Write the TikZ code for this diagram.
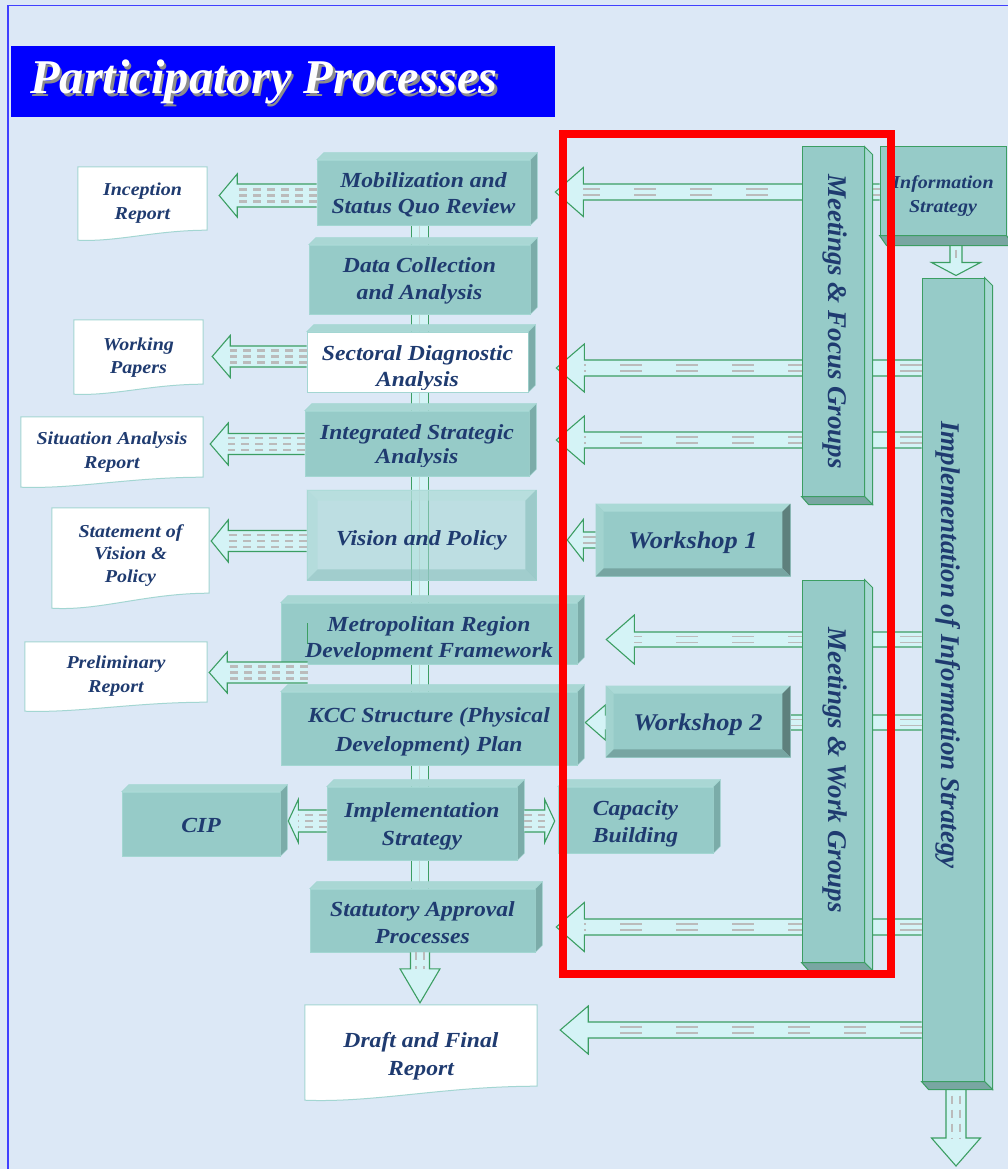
\documentclass[tikz,border=0pt]{standalone}
\usepackage{fontspec}
\setmainfont{Liberation Serif}[FakeStretch=1.1]
\newfontfamily\plainserif{Liberation Serif}
\usetikzlibrary{calc}
\pgfdeclarelayer{bg}
\pgfsetlayers{bg,main}
\definecolor{bgc}{HTML}{DCE8F6}
\definecolor{navy}{HTML}{1F3B70}
\definecolor{frontc}{HTML}{96CBC8}
\definecolor{topc}{HTML}{A9D7D4}
\definecolor{sidec}{HTML}{7BACA9}
\definecolor{edgec}{HTML}{A3D6D2}
\definecolor{grn}{HTML}{3C9E63}
\definecolor{shaftc}{HTML}{D4F3F6}
\definecolor{dashc}{HTML}{BBBBBB}
\definecolor{vsidec}{HTML}{A8D8D4}
\definecolor{vbotc}{HTML}{79A6A2}
\definecolor{titleblue}{HTML}{0000FF}
\definecolor{borderblue}{HTML}{4040FF}
\definecolor{titleshade}{HTML}{8C8C8C}
\definecolor{wstopc}{HTML}{AAD9D6}
\definecolor{wsleftc}{HTML}{A2D3CF}
\definecolor{wsrightc}{HTML}{5E807D}
\definecolor{wsbotc}{HTML}{77A5A2}
\definecolor{visfacec}{HTML}{A5D6D3}
\definecolor{vistopc}{HTML}{B5DFDC}
\definecolor{visleftc}{HTML}{AEDBD8}
\definecolor{visrightc}{HTML}{86BDBA}
\definecolor{visbotc}{HTML}{8FC3C0}
\definecolor{framered}{HTML}{FF0000}

\tikzset{
  boxfront/.style={fill=frontc, draw=edgec, line width=0.6pt, inner sep=0pt},
  whitefront/.style={fill=white, draw=edgec, line width=0.6pt, inner sep=0pt},
  topface/.style={fill=topc, draw=edgec, line width=0.5pt},
  sideface/.style={fill=sidec, draw=edgec, line width=0.5pt},
  boxtext/.style={text=navy, font=\fontsize{21.5}{27}\selectfont\bfseries\itshape, align=center, inner sep=0pt},
  dfrtext/.style={text=navy, font=\fontsize{21.5}{28}\selectfont\bfseries\itshape, align=center, inner sep=0pt},
  doctext/.style={text=navy, font=\fontsize{18.2}{24}\selectfont\bfseries\itshape, align=center, inner sep=0pt},
  docshape/.style={fill=white, draw=edgec, line width=1pt},
  vfront/.style={fill=frontc, draw=grn, line width=1pt, inner sep=0pt},
  vside/.style={fill=vsidec, draw=grn, line width=1pt},
  vbot/.style={fill=vbotc, draw=grn, line width=1pt},
  vtext/.style={text=navy, font=\plainserif\fontsize{27}{32}\selectfont\bfseries\itshape, inner sep=0pt},
  wsface/.style={fill=frontc, draw=edgec, line width=0.6pt},
  wstop/.style={fill=wstopc},
  wsleft/.style={fill=wsleftc},
  wsright/.style={fill=wsrightc},
  wsbot/.style={fill=wsbotc},
  wstext/.style={text=navy, font=\fontsize{24}{30}\selectfont\bfseries\itshape, align=center, inner sep=0pt},
  visface/.style={fill=visfacec, fill opacity=0.55, draw=edgec, line width=0.6pt},
  vistop/.style={fill=vistopc, fill opacity=0.6},
  visleft/.style={fill=visleftc, fill opacity=0.6},
  visright/.style={fill=visrightc, fill opacity=0.6},
  visbot/.style={fill=visbotc, fill opacity=0.6},
  vistext/.style={boxtext},
  arrowedge/.style={draw=grn, line width=1.1pt, line join=miter},
  longdash/.style={draw=dashc, line width=1.8pt, dash pattern=on 22pt off 34pt},
  griddash/.style={draw=dashc, line width=2.4pt, dash pattern=on 8pt off 6pt},
  vdash/.style={draw=dashc, line width=2pt, dash pattern=on 8pt off 6pt},
}

% 3D box with top and right faces
\newcommand\cbox[9]{%
  \node[#6, minimum width={#4-#2}, minimum height={#5-#3}] (#1) at ({(#2+#4)/2},{(#3+#5)/2}) {};
  \filldraw[topface] (#1.north west) -- ++(7,-7) -- ($(#1.north east)+(7,-7)$) -- (#1.north east) -- cycle;
  \filldraw[sideface] (#1.north east) -- ++(7,-7) -- ($(#1.south east)+(7,-7)$) -- (#1.south east) -- cycle;
  \begin{scope}
    \clip (#1.north west) rectangle (#1.south east |- 0,#9);
    \node[boxtext] (#1-t) at (#1.center |- 0,#8) {#7};
  \end{scope}
}
% bevelled box
\newcommand\bvbox[9]{%
  \node[#7face, minimum width={#4-#2}, minimum height={#5-#3}, inner sep=0pt] (#1) at ({(#2+#4)/2},{(#3+#5)/2}) {};
  \fill[#7top] (#1.north west) -- (#1.north east) -- ($(#1.north east)+(-#6,#6)$) -- ($(#1.north west)+(#6,#6)$) -- cycle;
  \fill[#7left] (#1.north west) -- ($(#1.north west)+(#6,#6)$) -- ($(#1.south west)+(#6,-#6)$) -- (#1.south west) -- cycle;
  \fill[#7right] (#1.north east) -- ($(#1.north east)+(-#6,#6)$) -- ($(#1.south east)+(-#6,-#6)$) -- (#1.south east) -- cycle;
  \fill[#7bot] (#1.south west) -- ($(#1.south west)+(#6,-#6)$) -- ($(#1.south east)+(-#6,-#6)$) -- (#1.south east) -- cycle;
  \node[#7text] (#1-t) at (#1.center |- 0,#9) {#8};
}
% vertical box with right and bottom faces
\newcommand\vertbox[5]{%
  \node[vfront, minimum width={#4-#2}, minimum height={#5-#3}] (#1) at ({(#2+#4)/2},{(#3+#5)/2}) {};
  \filldraw[vside] (#1.north east) -- ++(8,8) -- ($(#1.south east)+(8,8)$) -- (#1.south east) -- cycle;
  \filldraw[vbot] (#1.south west) -- ++(7,8) -- ($(#1.south east)+(8,8)$) -- (#1.south east) -- cycle;
}
% document shape
\newcommand\docbox[9]{%
  \node[inner sep=0pt, minimum width={#4-#2}, minimum height={#5-#3}] (#1) at ({(#2+#4)/2},{(#3+#5)/2}) {};
  \filldraw[docshape] (#1.north west) -- (#1.north east) -- (#1.south east)
    .. controls ($(#1.south east)+({-0.4*(#4-#2)},0)$) and ($(#1.south west)+({0.3*(#4-#2)},{1.2*(#6-#5)})$) .. ($(#1.south west)+(0,{#6-#5})$) -- cycle;
  \node[#7] (#1-t) at (#1.center |- 0,#9) {#8};
}
% left (or right) block arrow: start, tip ref, tip offset, y, shaft half, head half, head length, dash offsets, dash style
\newcommand\larrow[9]{%
  \coordinate (aS) at (#1 |- 0,#4);
  \coordinate (aT) at ($(#2 |- 0,#4)+(#3,0)$);
  \fill[shaftc] ($(aS)+(0,-#5)$) -- ($(aT)+(#7,-#5)$) -- ($(aT)+(#7,-#6)$) -- (aT) -- ($(aT)+(#7,#6)$) -- ($(aT)+(#7,#5)$) -- ($(aS)+(0,#5)$) -- cycle;
  \foreach \dy in {#8} {\draw[#9] ($(aS)+(0,\dy)$) -- ($(aT)+(#7,\dy)$);}
  \draw[arrowedge] ($(aS)+(0,-#5)$) -- ($(aT)+(#7,-#5)$) -- ($(aT)+(#7,-#6)$) -- (aT) -- ($(aT)+(#7,#6)$) -- ($(aT)+(#7,#5)$) -- ($(aS)+(0,#5)$);
}
% down block arrow: start, tip ref, tip offset, x, shaft half, head half, head length, dash offsets, dash style
\newcommand\darrow[9]{%
  \coordinate (aS) at (#1 -| #4,0);
  \coordinate (aT) at ($(#2 -| #4,0)+(0,#3)$);
  \fill[shaftc] ($(aS)+(-#5,0)$) -- ($(aT)+(-#5,-#7)$) -- ($(aT)+(-#6,-#7)$) -- (aT) -- ($(aT)+(#6,-#7)$) -- ($(aT)+(#5,-#7)$) -- ($(aS)+(#5,0)$) -- cycle;
  \foreach \dx in {#8} {\draw[#9] ($(aS)+(\dx,0)$) -- ($(aT)+(\dx,-#7)$);}
  \draw[arrowedge] ($(aS)+(-#5,0)$) -- ($(aT)+(-#5,-#7)$) -- ($(aT)+(-#6,-#7)$) -- (aT) -- ($(aT)+(#6,-#7)$) -- ($(aT)+(#5,-#7)$) -- ($(aS)+(#5,0)$);
}

\begin{document}
\begin{tikzpicture}[x=1pt,y=-1pt]
\useasboundingbox (0,0) rectangle (1008,1169);
\begin{pgfonlayer}{bg}
  \fill[bgc] (0,0) rectangle (1008,1169);
\end{pgfonlayer}
\draw[borderblue, line width=1.5pt] (8,1169) -- (8,5.5) -- (1008,5.5);

% title (white lettering with a grey shadow, in one node)
\node[fill=titleblue, minimum width=544, minimum height=71, inner sep=0pt] (titlebox) at (283,81.5) {};
\node[anchor=base west, inner sep=0pt, text=white, font=\plainserif\fontsize{48.5}{56}\selectfont\bfseries\itshape] (title) at (30,94)
  {\rlap{\hspace{2.5pt}\raisebox{-2.5pt}{\textcolor{titleshade}{Participatory Processes}}}Participatory Processes};

% centre column
\cbox{mob}{317}{160}{530}{225}{boxfront}{\strut Mobilization and\\\strut Status Quo Review}{195.1}{225}
\cbox{dca}{309}{245}{530}{314}{boxfront}{\strut Data Collection\\\strut and Analysis}{280.6}{314}
\cbox{sda}{307}{332}{528}{392}{whitefront}{\strut Sectoral Diagnostic\\[-1pt]\strut Analysis}{367.6}{389}
\cbox{isa}{305}{411}{529}{476}{boxfront}{\strut Integrated Strategic\\[-3pt]\strut Analysis}{445.6}{466}
\bvbox{vis}{307}{490}{536}{580}{11}{vis}{\strut Vision and Policy}{539.6}
\cbox{met}{281}{603}{577}{664}{boxfront}{\strut Metropolitan Region\\[-1pt]\strut Development Framework}{638.6}{659}
\cbox{kcc}{281}{692}{577}{765}{boxfront}{\strut KCC Structure (Physical\\[2pt]\strut Development) Plan}{731.1}{765}
\cbox{ims}{327}{787}{517}{860}{boxfront}{\strut Implementation\\[1pt]\strut Strategy}{825.6}{860}
\cbox{cip}{122}{792}{280}{856}{boxfront}{\strut CIP}{826.6}{856}
\cbox{cap}{558}{787}{713}{853}{boxfront}{\strut Capacity\\\strut Building}{823.1}{853}
\cbox{sap}{310}{889}{535}{952}{boxfront}{\strut Statutory Approval\\\strut Processes}{924.1}{952}

% workshops
\bvbox{ws1}{596}{504}{790}{576}{8}{ws}{\strut Workshop 1}{542}
\bvbox{ws2}{606}{686}{790}{757}{8}{ws}{\strut Workshop 2}{724}

% vertical boxes
\vertbox{mfg}{802}{147}{864}{496}
\node[vtext, rotate=-90, anchor=base] (mfg-t) at (828,321.5) {Meetings \& Focus Groups};
\vertbox{mwg}{802}{580}{864}{962}
\node[vtext, rotate=-90, anchor=base] (mwg-t) at (828,770) {Meetings \& Work Groups};
\vertbox{impl}{922}{278}{984}{1081}
\node[vtext, rotate=-90, anchor=base] (impl-t) at (941,645) {Implementation of Information Strategy};
\coordinate (implout) at (956,1166);

% information strategy
\node[vfront, minimum width=126, minimum height=88] (info) at (943,191) {};
\filldraw[vbot] (info.south west) -- ++(7,10) -- ($(info.south east)+(7,10)$) -- (info.south east) -- cycle;
\node[doctext] (info-t) at (info.center |- 0,195.2) {\strut Information\\\strut Strategy};

% documents
\docbox{inc}{78}{167}{207}{230}{240}{doctext}{\strut Inception\\\strut Report}{202.2}
\docbox{wp}{74}{320}{203}{384}{394}{doctext}{\strut Working\\[-1pt]\strut Papers}{356.7}
\docbox{sar}{21}{417}{203}{477}{487}{doctext}{\strut Situation Analysis\\\strut Report}{451.2}
\docbox{svp}{52}{508}{209}{593}{608}{doctext}{\strut Statement of\\[-1.5pt]Vision \&\\[-1.5pt]\strut Policy}{554.7}
\docbox{pre}{25}{642}{207}{702}{711}{doctext}{\strut Preliminary\\\strut Report}{675.2}
\docbox{dfr}{305}{1005}{537}{1086}{1100}{dfrtext}{\strut Draft and Final\\\strut Report}{1055.4}

% connectors behind the boxes
\begin{pgfonlayer}{bg}
  \fill[shaftc] (mob.south -| 411,0) rectangle (sap.north -| 428,0);
  \draw[dashc, line width=1.2pt, opacity=0.6] (mob.south -| 419.5,0) -- (sap.north -| 419.5,0);
  \draw[grn, line width=0.8pt] (mob.south -| 411,0) -- (sap.north -| 411,0) (mob.south -| 428,0) -- (sap.north -| 428,0);
  \larrow{info.west}{mob.east}{25}{192}{8}{24.5}{28}{-3,3}{longdash}
  \larrow{impl.west}{sda.east}{28}{368}{8}{24}{28}{-3,3}{longdash}
  \larrow{impl.west}{isa.east}{27}{440}{8}{24}{28}{-3,3}{longdash}
  \larrow{ws1.west}{vis.east}{31}{540}{8}{20.5}{16}{-3,3}{longdash}
  \larrow{impl.west}{met.east}{29}{639.5}{7.5}{24.5}{28}{-3,3}{longdash}
  \larrow{impl.west}{kcc.east}{8}{722.5}{7.5}{17.5}{20}{-3,3}{longdash}
  \larrow{impl.west}{sap.east}{21}{927}{8}{24.5}{28}{-3,3}{longdash}
  \larrow{impl.west}{dfr.east}{23}{1030}{8}{24}{28}{-3,3}{longdash}
  \darrow{info.south}{impl.north}{-2}{956}{6}{24.5}{13}{0}{vdash}
  \darrow{impl.south}{implout}{0}{956}{10}{24.5}{28}{-4,4}{vdash}
\end{pgfonlayer}

% connectors to the documents and side boxes
\larrow{mob.west}{inc.east}{12}{195.5}{11.5}{21.5}{18}{-6,0,6}{griddash}
\larrow{sda.west}{wp.east}{9}{356.5}{10.5}{21}{18}{-6,0,6}{griddash}
\larrow{isa.west}{sar.east}{7}{444}{10.5}{21}{18}{-6,0,6}{griddash}
\larrow{vis.west}{svp.east}{2}{541}{10.5}{21}{17}{-6,0,6}{griddash}
\coordinate (metarr) at ($(met.west)+(27,0)$);
\larrow{metarr}{pre.east}{2}{672.5}{10.5}{20.5}{18}{-6,0,6}{griddash}
\draw[arrowedge] ($(metarr)+(0,-10.5)$) -- ($(metarr)+(0,10.5)$);
\larrow{ims.west}{cip.east}{8}{821}{11}{21.5}{10}{-6,0,6}{griddash}
\coordinate (imsside) at ($(ims.east)+(7,0)$);
\larrow{imsside}{cap.west}{-3}{821}{11}{21.5}{-10}{-6,0,6}{griddash}
\darrow{sap.south}{dfr.north}{-2}{420}{9.5}{20}{34}{-4,4}{vdash}

% red highlight frame
\draw[framered, line width=7.5pt] (563,134) rectangle (891,974);
\end{tikzpicture}
\end{document}
